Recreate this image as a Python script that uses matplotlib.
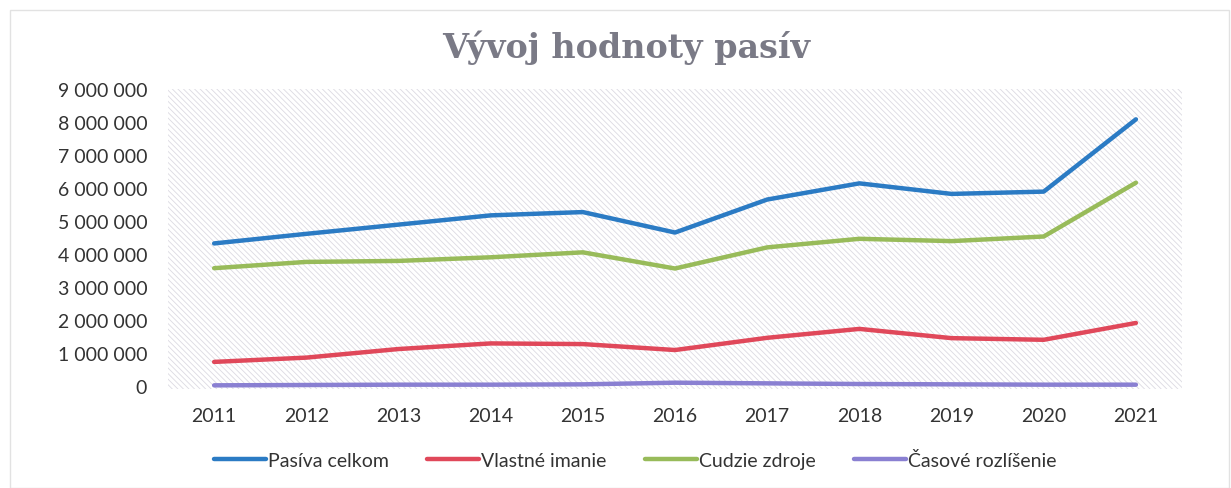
import matplotlib
matplotlib.use("Agg")
import matplotlib.pyplot as plt
from matplotlib.patches import Rectangle
from matplotlib.ticker import FuncFormatter

years = ["2011", "2012", "2013", "2014", "2015", "2016", "2017", "2018", "2019", "2020", "2021"]
pasiva_celkom = [4320000, 4610000, 4890000, 5170000, 5270000, 4650000, 5650000, 6140000, 5820000, 5890000, 8080000]
vlastne_imanie = [730000, 860000, 1120000, 1290000, 1270000, 1090000, 1460000, 1730000, 1450000, 1400000, 1910000]
cudzie_zdroje = [3570000, 3760000, 3790000, 3900000, 4050000, 3560000, 4200000, 4460000, 4390000, 4530000, 6160000]
casove_rozlisenie = [20000, 30000, 40000, 40000, 50000, 100000, 80000, 60000, 50000, 40000, 40000]
series_names = ["Pasíva celkom", "Vlastné imanie", "Cudzie zdroje", "Časové rozlíšenie"]
colors = ["#2b7bc4", "#e0485a", "#98bb5a", "#8a80d2"]
title = "Vývoj hodnoty pasív"

plt.rcParams['hatch.linewidth'] = 0.6
fig = plt.figure(figsize=(12.31, 4.89), dpi=100)
fig.patches.append(Rectangle((0.008, 0.0), 0.99, 0.978, transform=fig.transFigure,
                             fill=False, edgecolor="#e2e2e2", lw=1.0))
ax = fig.add_axes([0.1365, 0.2086, 0.8237, 0.6074])

# hatched background
ax.add_patch(Rectangle((0, -0.01), 1, 1.01, transform=ax.transAxes, facecolor="white",
                       edgecolor="#dcdae2", hatch="\\\\\\\\\\\\", lw=0, zorder=0, clip_on=False))

x = list(range(len(years)))
for vals, name, c in zip([pasiva_celkom, vlastne_imanie, cudzie_zdroje, casove_rozlisenie], series_names, colors):
    ax.plot(x, vals, color=c, lw=3.2, label=name, solid_capstyle="round", solid_joinstyle="round",
            zorder=3, clip_on=False)

ax.set_xlim(-0.5, len(years) - 0.5)
ax.set_ylim(0, 9000000)
ax.set_yticks(range(0, 9000001, 1000000))
ax.yaxis.set_major_formatter(FuncFormatter(lambda v, p: f"{int(v):,}".replace(",", " ")))
ax.set_xticks(x)
ax.set_xticklabels(years)
for s in ax.spines.values():
    s.set_visible(False)
ax.tick_params(length=0, labelsize=14, labelcolor="#333333")
ax.tick_params(axis="y", pad=15)
ax.tick_params(axis="x", pad=15)
for lab in ax.get_xticklabels() + ax.get_yticklabels():
    lab.set_family(["Lato", "DejaVu Sans"])

fig.text(0.5085, 0.902, title, ha="center", va="center", fontsize=24, fontweight="bold",
         family=["DejaVu Serif"], color="#7a7a86")

leg = fig.legend(loc="center", bbox_to_anchor=(0.516, 0.058), ncol=4, frameon=False,
                 handlelength=2.7, handletextpad=0.1, columnspacing=1.95,
                 prop={"family": ["Lato", "DejaVu Sans"], "size": 14})
for t in leg.get_texts():
    t.set_color("#333333")

fig.savefig("out.png", dpi=100)
